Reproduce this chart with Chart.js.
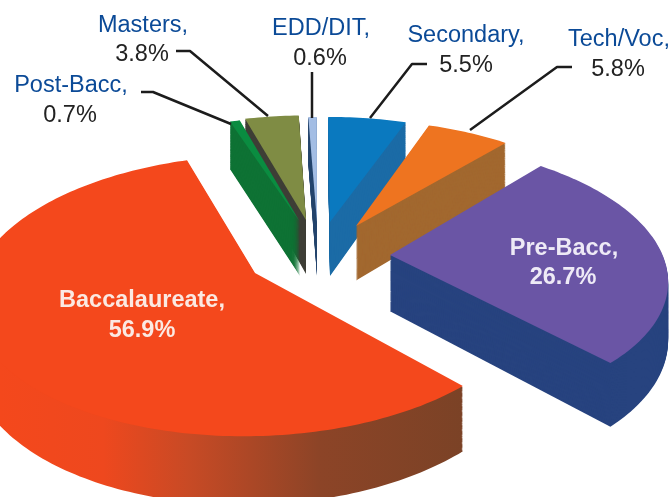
<!DOCTYPE html>
<html><head><meta charset="utf-8">
<style>html,body{margin:0;padding:0;background:#fff}canvas{display:block}</style>
<script src="https://cdn.jsdelivr.net/npm/chart.js@4"></script>
</head><body><canvas id="c" width="672" height="497"></canvas>
<script>
// ---- data ----
const categories = ["Secondary","Tech/Voc","Pre-Bacc","Baccalaureate","Post-Bacc","Masters","EDD/DIT"];
const shares = [5.5,5.8,26.7,56.9,0.7,3.8,0.6];
// ---- styles ----
const topColors  = ["#0a79bf","#ee7420","#6a55a5","#f4481c","#0a8c40","#7f8c44","#a3bde4"];
const sideColors = ["#1b6ba6","#a2682f","#27437f",null,"#0e7234","#3e3e36","#27476e"];
const baccSideStops = [[0,"#f4481c"],[0.22,"#ee481e"],[0.40,"#c84a25"],[0.68,"#8c4427"],[1,"#7a4226"]];
// ---- 3-D view: pie plane seen through a perspective camera ----
const view = {cx:316, cy:235, ax:266, ay:125, dist:6.5, depth:55};
const shiftX = [14,40,74,-61,-16,-10,1];      // explosion of each slice, px
const shiftY = [-13,-9,20,38,-13,-15,-13];
const paintOrder = [5,6,0,4,1,2,3];           // far to near
// ---- annotations ----
const labelFont = '23.5px "Liberation Sans", Arial, sans-serif';
const boldFont  = 'bold 23.5px "Liberation Sans", Arial, sans-serif';
const textItems = [
 ["Masters,",143,32,"#0b4a97",labelFont],["3.8%",142,61,"#222",labelFont],
 ["EDD/DIT,",321,35,"#0b4a97",labelFont],["0.6%",320,65,"#222",labelFont],
 ["Secondary,",466,42,"#0b4a97",labelFont],["5.5%",466,72,"#222",labelFont],
 ["Tech/Voc,",619,46,"#0b4a97",labelFont],["5.8%",618,76,"#222",labelFont],
 ["Post-Bacc,",71,92,"#0b4a97",labelFont],["0.7%",70,122,"#222",labelFont],
 ["Baccalaureate,",142,307,"#fbe9e2",boldFont],["56.9%",142,337,"#fbe9e2",boldFont],
 ["Pre-Bacc,",564,255,"#eeeaf6",boldFont],["26.7%",563,284,"#eeeaf6",boldFont]
];
const leaders = [
 [[176,51],[190,51],[268,116]],
 [[141,92],[153,92],[231,124]],
 [[312,72],[312,118]],
 [[427,64],[412,64],[370,118]],
 [[572,67],[557,67],[470,130]]
];

function project(X,Y,Z){
  const s = view.dist/(view.dist-Y);
  return [view.cx + X*view.ax*s, view.cy + (Y*view.ay + Z)*s];
}
function apexWorld(i){
  const v = shiftY[i]/view.ay;
  const Y = v*view.dist/(view.dist+v);
  const s = view.dist/(view.dist-Y);
  return [shiftX[i]/(view.ax*s), Y];
}
// canvas context stand-in: the library's arc path goes through the projection
function projectedCtx(ctx, arc, i, Z, fill){
  const [ox,oy] = apexWorld(i);
  const R = arc.outerRadius;
  let tx=0, ty=0; const stack=[];
  const map=(x,y)=>project((x+tx-arc.x)/R+ox,(y+ty-arc.y)/R+oy,Z);
  const o = {
    save(){stack.push([tx,ty]);}, restore(){[tx,ty]=stack.pop();},
    translate(a,b){tx+=a;ty+=b;},
    beginPath(){ctx.beginPath();}, closePath(){ctx.closePath();},
    moveTo(x,y){const p=map(x,y);ctx.moveTo(p[0],p[1]);},
    lineTo(x,y){const p=map(x,y);ctx.lineTo(p[0],p[1]);},
    arc(x,y,r,a0,a1,ccw){
      let d=a1-a0;
      if(ccw&&d>0)d-=Math.PI*2; if(!ccw&&d<0)d+=Math.PI*2;
      const n=Math.max(2,Math.ceil(Math.abs(d)/0.02));
      for(let k=0;k<=n;k++){const a=a0+d*k/n;const p=map(x+r*Math.cos(a),y+r*Math.sin(a));ctx.lineTo(p[0],p[1]);}
    },
    fill(){ctx.fillStyle=fill;ctx.fill();},
    stroke(){}, clip(){}, setLineDash(){}
  };
  return new Proxy(o,{get:(t,k)=>k in t?t[k]:undefined,set:()=>true});
}
const pie3d = {
  id:'pie3d',
  beforeDatasetsDraw(chart){
    const ctx=chart.ctx, arcs=chart.getDatasetMeta(0).data;
    for(const i of paintOrder){
      let side=sideColors[i];
      if(!side){
        side=ctx.createLinearGradient(0,0,470,0);
        baccSideStops.forEach(s=>side.addColorStop(s[0],s[1]));
      }
      for(let z=view.depth;z>0;z-=1) arcs[i].draw(projectedCtx(ctx,arcs[i],i,z,side));
      arcs[i].draw(projectedCtx(ctx,arcs[i],i,0,topColors[i]));
    }
    return false;
  },
  afterDraw(chart){
    const ctx=chart.ctx;
    ctx.save();
    ctx.strokeStyle="#1c1c1c";ctx.lineWidth=2.5;ctx.lineJoin="round";
    for(const l of leaders){
      ctx.beginPath();l.forEach((p,k)=>k?ctx.lineTo(p[0],p[1]):ctx.moveTo(p[0],p[1]));ctx.stroke();
    }
    ctx.textAlign="center";ctx.textBaseline="alphabetic";
    for(const t of textItems){ctx.font=t[4];ctx.fillStyle=t[3];ctx.fillText(t[0],t[1],t[2]);}
    ctx.restore();
  }
};
new Chart(document.getElementById('c'),{
  type:'pie',
  data:{labels:categories,datasets:[{data:shares,backgroundColor:topColors,borderWidth:0}]},
  options:{responsive:false,animation:false,rotation:0,layout:{padding:0},
    plugins:{legend:{display:false},tooltip:{enabled:false},title:{display:false}}},
  plugins:[pie3d]
});
</script></body></html>
